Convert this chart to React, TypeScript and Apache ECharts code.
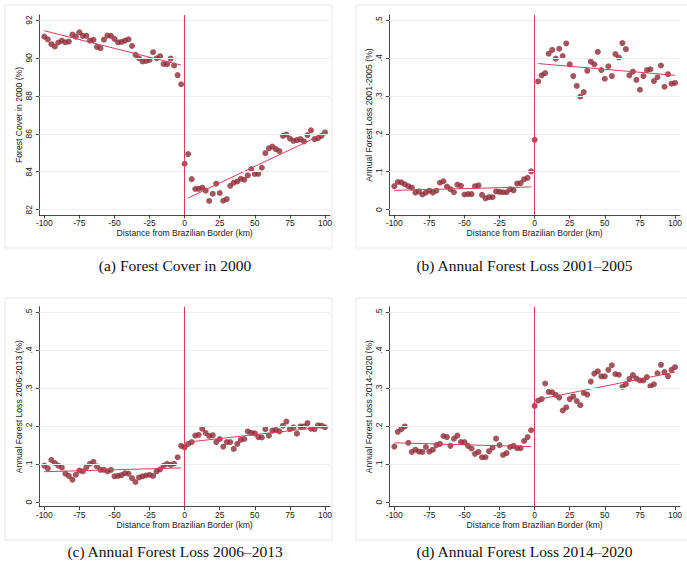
import React, { useEffect, useRef } from "react";
import * as echarts from "echarts";

// Bin centres: distance from Brazilian border (km)
const distance = [
  -100, -97.5, -95, -92.5, -90, -87.5, -85, -82.5, -80, -77.5,
  -75, -72.5, -70, -67.5, -65, -62.5, -60, -57.5, -55, -52.5,
  -50, -47.5, -45, -42.5, -40, -37.5, -35, -32.5, -30, -27.5,
  -25, -22.5, -20, -17.5, -15, -12.5, -10, -7.5, -5, -2.5,
  0, 2.5, 5, 7.5, 10, 12.5, 15, 17.5, 20, 22.5,
  25, 27.5, 30, 32.5, 35, 37.5, 40, 42.5, 45, 47.5,
  50, 52.5, 55, 57.5, 60, 62.5, 65, 67.5, 70, 72.5,
  75, 77.5, 80, 82.5, 85, 87.5, 90, 92.5, 95, 97.5, 100,
];

// (a) Forest cover in 2000 (%)
const forestCover2000 = [
  91.12, 90.98, 90.72, 90.6, 90.81, 90.91, 90.82, 90.86, 91.23, 91.12,
  91.35, 91.16, 91.16, 90.91, 90.95, 90.58, 90.51, 90.96, 91.18, 91.16,
  91.0, 90.82, 90.84, 90.91, 90.98, 90.63, 90.16, 89.98, 89.81, 89.84,
  89.89, 90.3, 89.98, 90.09, 89.68, 89.67, 89.96, 89.6, 89.09, 88.61,
  84.42, 84.93, 83.61, 83.09, 83.1, 83.16, 83.0, 82.46, 82.84, 83.37,
  82.88, 82.47, 82.56, 83.26, 83.42, 83.49, 83.63, 83.58, 83.81, 84.14,
  83.88, 83.89, 84.21, 84.98, 85.23, 85.33, 85.19, 85.09, 85.89, 85.96,
  85.75, 85.63, 85.67, 85.72, 85.6, 85.93, 86.18, 85.72, 85.77, 85.89, 86.07,
];

// (b) Annual forest loss 2001-2005 (%)
const loss2001_2005 = [
  0.062, 0.073, 0.072, 0.067, 0.062, 0.058, 0.045, 0.048, 0.04, 0.045,
  0.05, 0.045, 0.05, 0.071, 0.075, 0.061, 0.054, 0.046, 0.066, 0.063,
  0.04, 0.041, 0.041, 0.062, 0.064, 0.039, 0.03, 0.033, 0.033, 0.048,
  0.047, 0.046, 0.046, 0.054, 0.051, 0.069, 0.07, 0.08, 0.084, 0.101,
  0.184, 0.338, 0.354, 0.36, 0.411, 0.421, 0.398, 0.424, 0.405, 0.438,
  0.383, 0.352, 0.326, 0.298, 0.31, 0.366, 0.39, 0.383, 0.416, 0.368,
  0.345, 0.378, 0.352, 0.41, 0.401, 0.439, 0.423, 0.354, 0.364, 0.342,
  0.316, 0.352, 0.368, 0.37, 0.339, 0.349, 0.38, 0.324, 0.357, 0.332, 0.334,
];

// (c) Annual forest loss 2006-2013 (%)
const loss2006_2013 = [
  0.096, 0.089, 0.111, 0.103, 0.096, 0.091, 0.075, 0.069, 0.059, 0.072,
  0.083, 0.081, 0.092, 0.101, 0.106, 0.094, 0.085, 0.085, 0.081, 0.085,
  0.068, 0.069, 0.071, 0.076, 0.075, 0.063, 0.053, 0.065, 0.068, 0.07,
  0.072, 0.069, 0.081, 0.086, 0.096, 0.101, 0.098, 0.101, 0.118, 0.148,
  0.144, 0.153, 0.158, 0.175, 0.177, 0.193, 0.182, 0.174, 0.176, 0.158,
  0.166, 0.146, 0.158, 0.158, 0.14, 0.153, 0.164, 0.166, 0.186, 0.182,
  0.181, 0.171, 0.17, 0.192, 0.175, 0.188, 0.19, 0.186, 0.201, 0.212,
  0.192, 0.197, 0.18, 0.199, 0.199, 0.208, 0.193, 0.192, 0.202, 0.201, 0.197,
];

// (d) Annual forest loss 2014-2020 (%)
const loss2014_2020 = [
  0.146, 0.185, 0.192, 0.199, 0.156, 0.132, 0.138, 0.133, 0.132, 0.145,
  0.133, 0.138, 0.15, 0.153, 0.174, 0.171, 0.148, 0.167, 0.175, 0.158,
  0.158, 0.148, 0.141, 0.127, 0.132, 0.118, 0.118, 0.134, 0.143, 0.167,
  0.15, 0.124, 0.129, 0.145, 0.148, 0.142, 0.142, 0.161, 0.171, 0.189,
  0.253, 0.267, 0.271, 0.312, 0.29, 0.289, 0.282, 0.275, 0.241, 0.249,
  0.271, 0.278, 0.266, 0.255, 0.287, 0.283, 0.317, 0.338, 0.344, 0.331,
  0.331, 0.348, 0.36, 0.337, 0.335, 0.303, 0.31, 0.324, 0.334, 0.325,
  0.32, 0.32, 0.329, 0.305, 0.31, 0.339, 0.361, 0.342, 0.331, 0.348, 0.355,
];

// Linear fit end points on each side of the border
const fitXLeft = [-100, -2.5];
const fitXRight = [2.5, 100];
const fitCoverLeft = [91.43, 89.62];
const fitCoverRight = [82.62, 86.03];
const fit0105Left = [0.051, 0.06];
const fit0105Right = [0.385, 0.354];
const fit0613Left = [0.08, 0.09];
const fit0613Right = [0.158, 0.198];
const fit1420Left = [0.156, 0.146];
const fit1420Right = [0.27, 0.342];

// Tick labels
const xTicks = [-100, -75, -50, -25, 0, 25, 50, 75, 100];
const coverTicks = [82, 84, 86, 88, 90, 92];
const lossTicks = [0, 0.1, 0.2, 0.3, 0.4, 0.5];

const yTitles = [
  "Forest Cover in 2000 (%)",
  "Annual Forest Loss 2001-2005 (%)",
  "Annual Forest Loss 2006-2013 (%)",
  "Annual Forest Loss 2014-2020 (%)",
];
const captions = [
  "(a) Forest Cover in 2000",
  "(b) Annual Forest Loss 2001–2005",
  "(c) Annual Forest Loss 2006–2013",
  "(d) Annual Forest Loss 2014–2020",
];
const xTitle = "Distance from Brazilian Border (km)";

const DOT = "#8e2a36";
const FIT = "#d6405f";
const GRIDC = "#e9eff1";
const AXIS = "#1a1a1a";
const FONT = "'Liberation Sans', Arial, sans-serif";

const PANELS = [
  { left: 39.3, top: 15, values: forestCover2000, fitL: fitCoverLeft, fitR: fitCoverRight, ticks: coverTicks, min: 81.72, max: 92.26 },
  { left: 389.3, top: 15, values: loss2001_2005, fitL: fit0105Left, fitR: fit0105Right, ticks: lossTicks, min: -0.014, max: 0.513 },
  { left: 39.3, top: 306.7, values: loss2006_2013, fitL: fit0613Left, fitR: fit0613Right, ticks: lossTicks, min: -0.012, max: 0.514 },
  { left: 389.3, top: 306.7, values: loss2014_2020, fitL: fit1420Left, fitR: fit1420Right, ticks: lossTicks, min: -0.012, max: 0.514 },
];

const lossFmt = (v: number) => (v === 0 ? "0" : String(v).replace(/^0/, ""));

function buildOption() {
  const grid: any[] = [];
  const xAxis: any[] = [];
  const yAxis: any[] = [];
  const series: any[] = [];

  PANELS.forEach((p, i) => {
    grid.push({ left: p.left, top: p.top, width: 290.7, height: 200 });
    xAxis.push({
      gridIndex: i,
      type: "value",
      min: -103.56,
      max: 103.56,
      axisLine: { show: true, onZero: false, lineStyle: { color: AXIS, width: 0.8 } },
      axisTick: { show: true, length: 3.5, customValues: xTicks, lineStyle: { color: AXIS, width: 0.8 } },
      axisLabel: { customValues: xTicks, fontSize: 8.5, fontFamily: FONT, color: "#222", margin: 3.5 },
      splitLine: { show: false },
      name: xTitle,
      nameLocation: "middle",
      nameGap: 12.5,
      nameTextStyle: { fontSize: 8.6, fontFamily: FONT, color: "#222" },
    });
    yAxis.push({
      gridIndex: i,
      type: "value",
      min: p.min,
      max: p.max,
      axisLine: { show: true, onZero: false, lineStyle: { color: AXIS, width: 0.8 } },
      axisTick: { show: true, length: 3.5, customValues: p.ticks, lineStyle: { color: AXIS, width: 0.8 } },
      axisLabel: {
        customValues: p.ticks,
        rotate: 90,
        fontSize: 8.5,
        fontFamily: FONT,
        color: "#222",
        margin: 6,
        formatter: i === 0 ? (v: number) => String(v) : lossFmt,
      },
      splitLine: { show: false },
      name: yTitles[i],
      nameLocation: "middle",
      nameGap: 14,
      nameTextStyle: { fontSize: 8.6, fontFamily: FONT, color: "#222" },
    });

    // horizontal gridlines
    series.push({
      type: "line",
      xAxisIndex: i,
      yAxisIndex: i,
      data: [],
      z: 1,
      silent: true,
      markLine: {
        silent: true,
        symbol: ["none", "none"],
        label: { show: false },
        lineStyle: { color: GRIDC, width: 1, type: "solid" },
        data: p.ticks.map((t) => ({ yAxis: t })),
      },
    });
    // vertical line at the border
    series.push({
      type: "line",
      xAxisIndex: i,
      yAxisIndex: i,
      data: [],
      z: 2,
      silent: true,
      markLine: {
        silent: true,
        symbol: ["none", "none"],
        label: { show: false },
        lineStyle: { color: FIT, width: 1, type: "solid" },
        data: [{ xAxis: 0 }],
      },
    });
    series.push({
      type: "scatter",
      xAxisIndex: i,
      yAxisIndex: i,
      z: 3,
      symbol: "circle",
      symbolSize: 6,
      itemStyle: { color: DOT },
      data: distance.map((d, k) => [d, p.values[k]]),
    });
    series.push({
      type: "line",
      xAxisIndex: i,
      yAxisIndex: i,
      z: 4,
      symbol: "none",
      lineStyle: { color: FIT, width: 1 },
      data: fitXLeft.map((x, k) => [x, p.fitL[k]]),
    });
    series.push({
      type: "line",
      xAxisIndex: i,
      yAxisIndex: i,
      z: 4,
      symbol: "none",
      lineStyle: { color: FIT, width: 1 },
      data: fitXRight.map((x, k) => [x, p.fitR[k]]),
    });
  });

  const frames = [
    { x: 5, y: 5, w: 327, h: 243 },
    { x: 356, y: 5, w: 340, h: 243 },
    { x: 5, y: 298, w: 327, h: 242 },
    { x: 356, y: 298, w: 340, h: 242 },
  ];
  const capPos = [
    { x: 175, y: 265 },
    { x: 524.5, y: 265 },
    { x: 175, y: 551 },
    { x: 524.5, y: 551 },
  ];

  const graphic: any[] = [];
  frames.forEach((f) =>
    graphic.push({
      type: "rect",
      z: -10,
      silent: true,
      shape: { x: f.x, y: f.y, width: f.w, height: f.h },
      style: { fill: "none", stroke: "#e4e8ea", lineWidth: 1 },
    })
  );
  captions.forEach((c, i) =>
    graphic.push({
      type: "text",
      x: capPos[i].x,
      y: capPos[i].y,
      silent: true,
      style: {
        text: c,
        font: "15.5px 'Liberation Serif', 'Times New Roman', serif",
        fill: "#111",
        textAlign: "center",
        textVerticalAlign: "middle",
        align: "center",
        verticalAlign: "middle",
      },
    })
  );

  return {
    animation: false,
    backgroundColor: "#ffffff",
    grid,
    xAxis,
    yAxis,
    series,
    graphic,
  };
}

export default function App() {
  const ref = useRef<HTMLDivElement>(null);
  useEffect(() => {
    if (!ref.current) return;
    const chart = echarts.init(ref.current, undefined, { renderer: "svg" });
    chart.setOption(buildOption() as any);
    return () => chart.dispose();
  }, []);
  return (
    <div
      ref={ref}
      style={{ position: "absolute", left: 0, top: 0, width: 687, height: 563 }}
    />
  );
}
